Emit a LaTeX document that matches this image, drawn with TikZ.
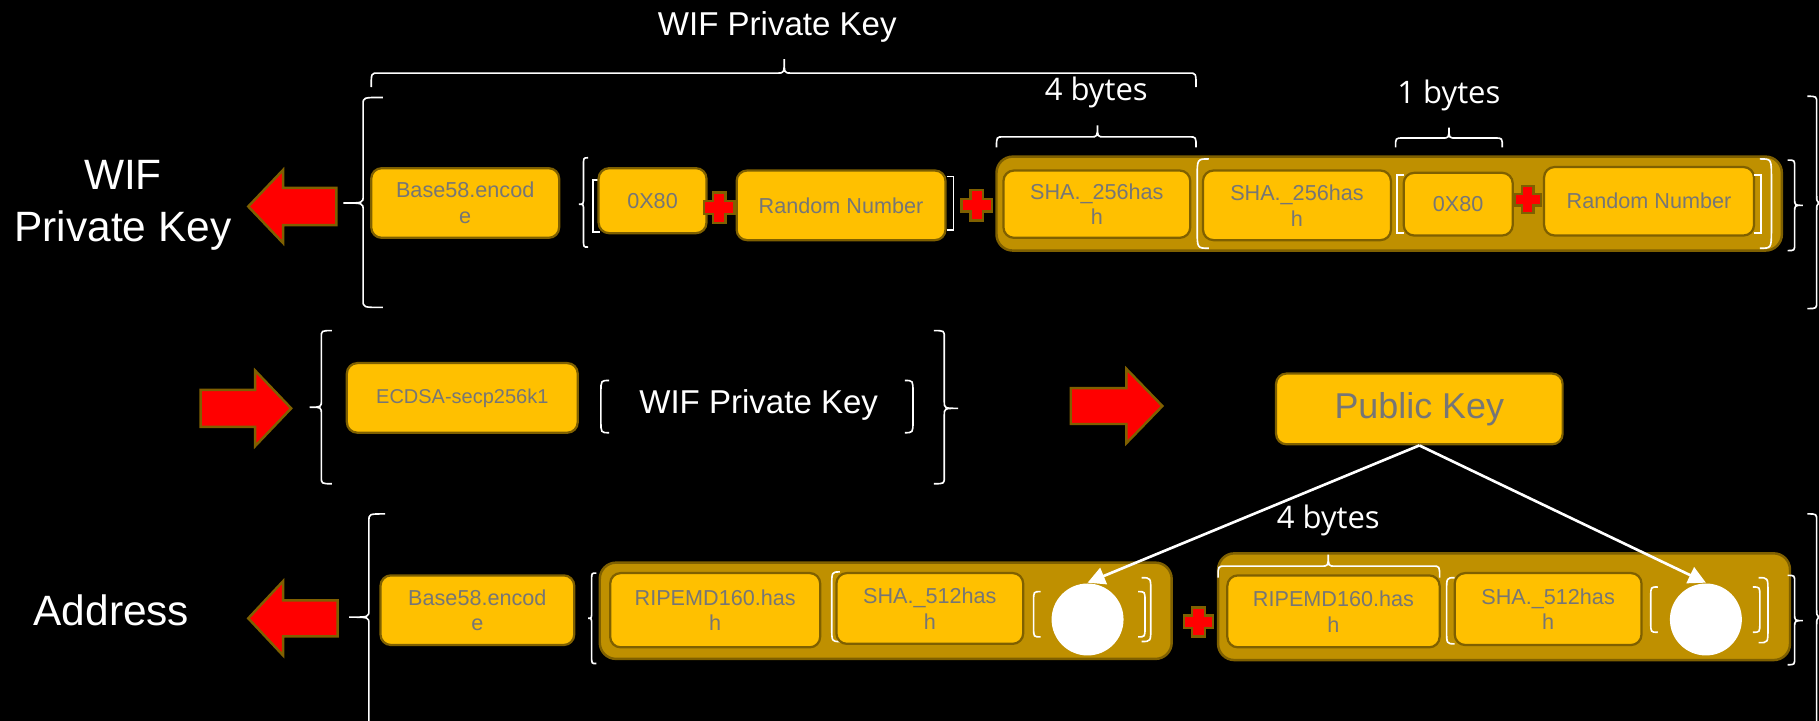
\documentclass[tikz,border=0pt]{standalone}
\usepackage{fontspec}
\setmainfont{Liberation Sans}
\newfontfamily\segoefont{Open Sans}
\usetikzlibrary{arrows.meta}
\definecolor{ygold}{RGB}{255,192,0}
\definecolor{ogold}{RGB}{191,144,0}
\definecolor{obord}{RGB}{127,96,0}
\definecolor{btext}{RGB}{118,118,118}
% style, x1, y1, x2, y2, name, text
\newcommand{\mybox}[7]{%
  \node[#1, minimum width={0.01cm*(#4-#2)}, minimum height={0.01cm*(#5-#3)}] (#6) at ({(#2+#4)/2},{(#3+#5)/2}) {#7};}
% x, ytop, ybot, ytip, end reach, tip reach (signed)
\newcommand{\myvbrace}[6]{%
  \draw[wline] ({#1+#5},#2) .. controls (#1,#2) .. (#1,{#2+6}) -- (#1,{#4-6}) .. controls (#1,#4) .. ({#1-#6},#4) .. controls (#1,#4) .. (#1,{#4+6}) -- (#1,{#3-6}) .. controls (#1,#3) .. ({#1+#5},#3);}
% y, x1, x2, xtip, down, up
\newcommand{\myhbrace}[6]{%
  \draw[wline] (#2,{#1+#5}) .. controls (#2,#1) .. ({#2+6},#1) -- ({#4-6},#1) .. controls (#4,#1) .. (#4,{#1-#6}) .. controls (#4,#1) .. ({#4+6},#1) -- ({#3-6},#1) .. controls (#3,#1) .. (#3,{#1+#5});}
% x, ytop, ybot, w (signed)
\newcommand{\mysqbr}[4]{%
  \draw[wline] ({#1+#4},#2) -- (#1,#2) -- (#1,#3) -- ({#1+#4},#3);}
% x, ytop, ybot, w (signed), curve height
\newcommand{\myparen}[5]{%
  \draw[wline] ({#1+#4},#2) .. controls (#1,#2) .. (#1,{#2+#5}) -- (#1,{#3-#5}) .. controls (#1,#3) .. ({#1+#4},#3);}
% tip x, y, head back x, half head, half shaft, shaft end x
\newcommand{\myarrow}[6]{%
  \filldraw[redarrow] (#1,#2) -- (#3,{#2-#4}) -- (#3,{#2-#5}) -- (#6,{#2-#5}) -- (#6,{#2+#5}) -- (#3,{#2+#5}) -- (#3,{#2+#4}) -- cycle;}
% cx, cy, half size, half arm
\newcommand{\myplus}[4]{%
  \filldraw[redarrow] ({#1-#4},{#2-#3}) -- ({#1+#4},{#2-#3}) -- ({#1+#4},{#2-#4}) -- ({#1+#3},{#2-#4}) -- ({#1+#3},{#2+#4}) -- ({#1+#4},{#2+#4}) -- ({#1+#4},{#2+#3}) -- ({#1-#4},{#2+#3}) -- ({#1-#4},{#2+#4}) -- ({#1-#3},{#2+#4}) -- ({#1-#3},{#2-#4}) -- ({#1-#4},{#2-#4}) -- cycle;}
\begin{document}
\begin{tikzpicture}[x=0.01cm,y=-0.01cm,
  ybox/.style={draw=obord, fill=ygold, line width=0.55pt, rounded corners=0.09cm, inner sep=0pt, text=btext, font=\fontsize{5.3}{6.3}\selectfont, align=center},
  obox/.style={draw=obord, fill=ogold, line width=0.6pt, rounded corners=0.14cm, inner sep=0pt},
  wline/.style={draw=white, line width=0.4pt},
  redarrow/.style={fill=red, draw=obord, line width=0.6pt, line join=miter},
  biglabel/.style={text=white, font=\fontsize{10.4}{12.8}\selectfont, align=center, inner sep=0pt},
  midlabel/.style={text=white, font=\fontsize{8.1}{10}\selectfont, inner sep=0pt},
  byteslabel/.style={text=white, font=\segoefont\fontsize{7.6}{9}\selectfont, inner sep=0pt},
  dot/.style={circle, fill=white, minimum size=0.62cm, inner sep=0pt},
  conn/.style={draw=white, line width=0.65pt, -{Triangle[width=0.15cm,length=0.15cm]}}
]
\useasboundingbox (0,0) rectangle (1568,621.5);
\fill[black] (0,0) rectangle (1568,621.5);

% ---------- row 1 ----------
\node[biglabel] (lblwif) at (106,177) {WIF\\Private Key};
\myarrow{214}{178}{244}{31.5}{16}{290}
\myvbrace{313}{84}{265}{175}{17}{17}
\mybox{ybox}{320}{145}{482}{205}{b58a}{Base58.encod\\e}
\myvbrace{503}{136}{213}{176}{4}{4}
\mysqbr{511}{155}{200}{6}
\mybox{ybox}{516}{145}{609}{201}{x80a}{0X80}
\myplus{620}{179}{13}{5.5}
\mybox{ybox}{635}{147}{815}{207}{rna}{Random Number}
\mysqbr{822}{152}{198}{-6}
\myplus{842}{177}{13}{5.5}
\mybox{obox}{859}{135}{1536}{216}{olivea}{}
\mybox{ybox}{865}{147}{1026}{205}{shaa}{SHA.\_256has\\h}
\myparen{1032}{137}{214}{10}{16}
\mybox{ybox}{1037}{147}{1199}{207}{shab}{SHA.\_256has\\h}
\mysqbr{1204}{151}{201}{6}
\mybox{ybox}{1210}{149}{1304}{203}{x80b}{0X80}
\myplus{1317}{172}{11.5}{5}
\mybox{ybox}{1331}{144}{1512}{203}{rnb}{Random Number}
\mysqbr{1518}{151}{201}{-6}
\myparen{1527}{137}{214}{-10}{16}
\myvbrace{1547}{138}{216}{177}{-6}{-7}
\myvbrace{1566}{83}{266}{175}{-8}{-10}

\node[midlabel] (lbltop) at (670,23) {WIF Private Key};
\myhbrace{63}{320}{1031}{676}{12}{12}
\node[byteslabel] (lbl4a) at (945,80) {4 bytes};
\myhbrace{118}{859}{1031}{946}{9}{10}
\node[byteslabel] (lbl1) at (1249,82) {1 bytes};
\myhbrace{119}{1203}{1295}{1249}{8}{9}

% ---------- row 2 ----------
\myarrow{251}{352}{220}{32.5}{16}{173}
\myvbrace{277}{285}{417}{351}{9}{10}
\mybox{ybox, font=\fontsize{4.9}{6}\selectfont}{299}{313}{498}{373}{ecdsa}{ECDSA-secp256k1}
\myparen{518}{328}{373}{7}{10}
\node[midlabel] (lblmid) at (654,349) {WIF Private Key};
\myparen{787}{328}{373}{-7}{10}
\myvbrace{814}{285}{417}{352}{-9}{-12}
\myarrow{1002}{350}{971}{32}{15.5}{923}
\mybox{ybox, font=\fontsize{8.8}{10}\selectfont}{1100}{322}{1347}{383}{pk}{Public Key}

% ---------- row 3 ----------
\node[biglabel] (lbladdr) at (96,526) {Address};
\myarrow{214}{533}{244}{32}{15.5}{291}
\myvbrace{318}{443}{660}{532}{14}{17}
\mybox{ybox}{328}{496}{495}{556}{b58b}{Base58.encod\\e}
\myvbrace{510}{494}{572}{533}{4}{3}
\mybox{obox}{517}{485}{1010}{568}{oliveb}{}
\mybox{ybox}{526}{494}{707}{558}{ripa}{RIPEMD160.has\\h}
\myparen{717}{493}{553}{7}{12}
\mybox{ybox}{721}{494}{882}{555}{sha5a}{SHA.\_512has\\h}
\myparen{891}{510}{549}{6}{8}
\node[dot] (c1) at (937.5,534) {};
\myparen{987}{510}{549}{-6}{8}
\myparen{992}{498}{553}{-8}{12}
\myplus{1033}{536}{12.5}{5.5}
\mybox{obox}{1050}{477}{1543}{569}{olivec}{}
\mybox{ybox}{1058}{496}{1241}{558}{ripb}{RIPEMD160.has\\h}
\myhbrace{488}{1050}{1241}{1145}{10}{10}
\node[byteslabel] (lbl4b) at (1145,449) {4 bytes};
\myparen{1247}{498}{555}{7}{12}
\mybox{ybox}{1254}{494}{1415}{556}{sha5b}{SHA.\_512has\\h}
\myparen{1423}{506}{545}{6}{8}
\node[dot] (c2) at (1470.5,534) {};
\myparen{1517}{506}{545}{-6}{8}
\myparen{1524}{498}{554}{-8}{12}
\myvbrace{1547}{496}{573}{535}{-6}{-7}
\myvbrace{1566}{443}{660}{532}{-8}{-10}

% ---------- connectors ----------
\draw[conn] (pk.south) -- (c1.north);
\draw[conn] (pk.south) -- (c2.north);
\end{tikzpicture}
\end{document}
